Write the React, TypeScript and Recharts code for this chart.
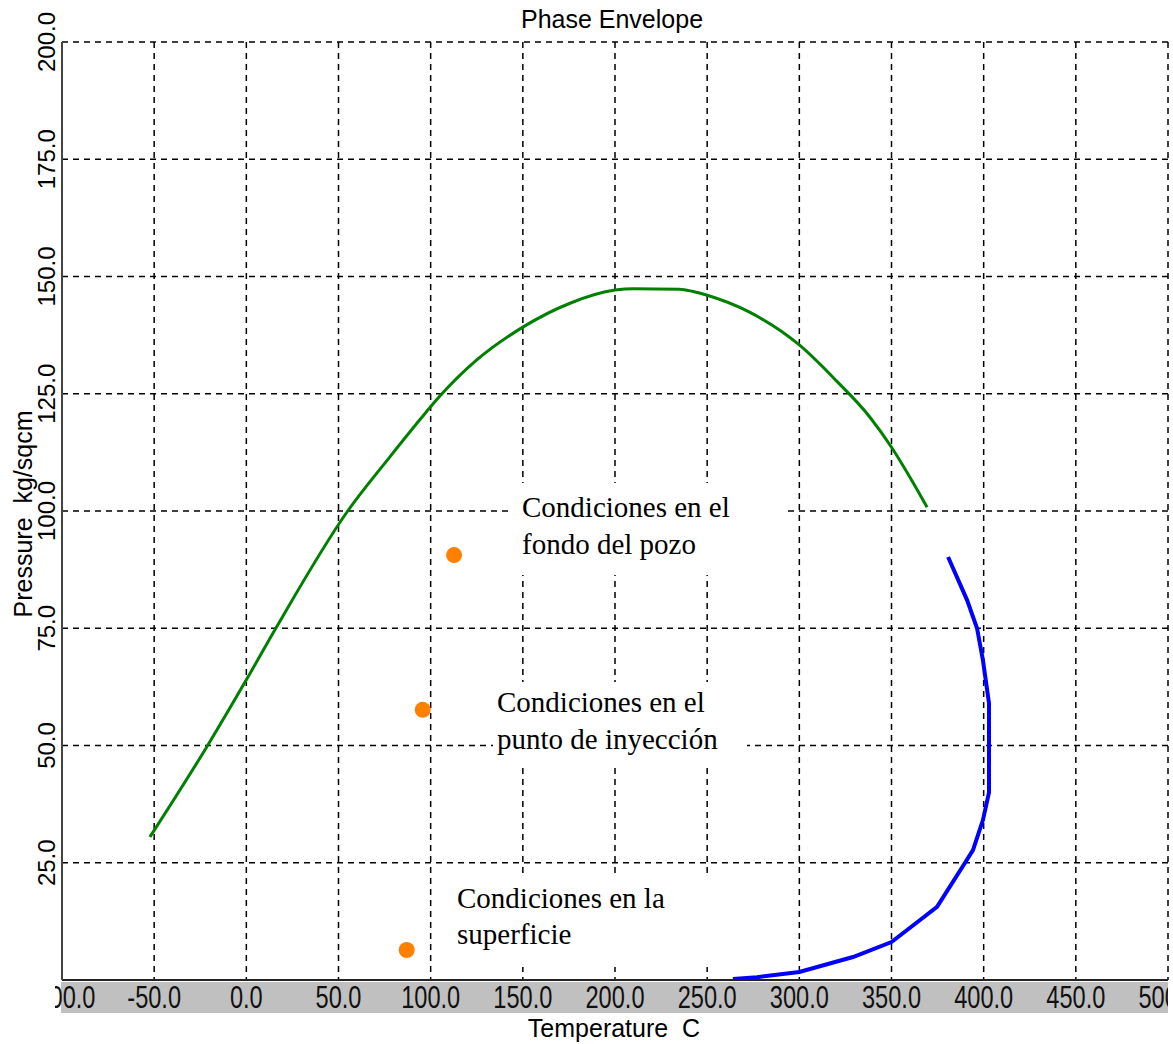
import { ComposedChart, Line, Scatter, XAxis, YAxis, CartesianGrid } from 'recharts';

// bubble point curve (green)
const bubbleTemp = [-52.3, -21, 0, 16, 55, 78, 94, 105, 125, 150, 175.6, 200, 210, 235, 242.3, 250, 273, 300, 320, 338.3, 350, 360, 369.3];
const bubblePress = [30.5, 50, 64, 75, 100, 111.6, 119.4, 124.5, 132.2, 139.2, 144.3, 147.1, 147.4, 147.3, 146.8, 146, 142.4, 135.4, 127.8, 120, 113.6, 107.2, 100.8];

// dew point curve (blue)
const dewTemp = [380.7, 391, 396.4, 399.6, 402.9, 402.9, 399.6, 394.2, 389.9, 374.7, 365.5, 350, 329.1, 300, 277, 264];
const dewPress = [90.2, 81, 75, 68.2, 59, 40, 34.1, 27.7, 25, 15.6, 12.8, 8.1, 4.9, 1.7, 0.6, 0.2];

// operating conditions
const condTemp = [112.7, 95.7, 87.0];
const condPress = [90.6, 57.6, 6.4];
const condLabels = [
    ['Condiciones en el', 'fondo del pozo'],
    ['Condiciones en el', 'punto de inyección'],
    ['Condiciones en la', 'superficie'],
];

const tempTicks = [-100, -50, 0, 50, 100, 150, 200, 250, 300, 350, 400, 450, 500];
const pressTicks = [0, 25, 50, 75, 100, 125, 150, 175, 200];

const bubbleData = bubbleTemp.map((t, i) => ({ t, p: bubblePress[i] }));
const dewData = dewTemp.map((t, i) => ({ t, p: dewPress[i] }));
const condData = condTemp.map((t, i) => ({ t, p: condPress[i] }));

const W = 1173;
const H = 1044;
const sans = '"Liberation Sans", Arial, sans-serif';
const serif = '"Liberation Serif", "Times New Roman", serif';

// white note boxes next to the condition points
const noteBoxes = [
    { x: 512, y: 483, w: 271, h: 92, tx: 522, ty: 517, lh: 37 },
    { x: 493, y: 682, w: 254, h: 85, tx: 497, ty: 712, lh: 37 },
    { x: 447, y: 875, w: 280, h: 92, tx: 457, ty: 908, lh: 36 },
];

function TempTick(props: any) {
    const { x, payload, index } = props;
    return (
        <g>
            {index === 0 && (
                <>
                    <defs>
                        <clipPath id="tempBand">
                            <rect x={55} y={975} width={1113} height={45} />
                        </clipPath>
                    </defs>
                    <rect x={61} y={982} width={1107} height={31} fill="#c0c0c0" />
                </>
            )}
            <g clipPath="url(#tempBand)">
                <text
                    transform={`translate(${x},1008) scale(1,1.3)`}
                    textAnchor="middle"
                    fontSize={23.6}
                    fontFamily={sans}
                    fill="#111"
                >
                    {payload.value.toFixed(1)}
                </text>
            </g>
        </g>
    );
}

function PressTick(props: any) {
    const { y, payload } = props;
    if (payload.value === 0) return null;
    return (
        <text
            transform={`translate(55,${y}) rotate(-90)`}
            textAnchor="middle"
            fontSize={24}
            fontFamily={sans}
            fill="#000"
        >
            {payload.value.toFixed(1)}
        </text>
    );
}

function CondDot(props: any) {
    return <circle cx={props.cx} cy={props.cy} r={8} fill="#ff8000" />;
}

export default function App() {
    return (
        <div style={{ position: 'absolute', left: 0, top: 0, width: W, height: H, background: '#fff' }}>
            <ComposedChart width={W} height={H} margin={{ top: 42, right: 5, left: 0, bottom: 0 }}>
                <CartesianGrid stroke="#000" strokeWidth={1.5} strokeDasharray="6 5" />
                <XAxis
                    type="number"
                    dataKey="t"
                    domain={[-100, 500]}
                    ticks={tempTicks}
                    interval={0}
                    height={64}
                    allowDataOverflow
                    axisLine={{ stroke: '#222', strokeWidth: 2 }}
                    tickLine={false}
                    tick={<TempTick />}
                />
                <YAxis
                    type="number"
                    dataKey="p"
                    domain={[0, 200]}
                    ticks={pressTicks}
                    interval={0}
                    width={62}
                    allowDataOverflow
                    axisLine={{ stroke: '#444', strokeWidth: 2 }}
                    tickLine={false}
                    tick={<PressTick />}
                />
                <Line data={bubbleData} dataKey="p" type="monotone" stroke="#008000" strokeWidth={3} dot={false} isAnimationActive={false} />
                <Line data={dewData} dataKey="p" type="linear" stroke="#0000ff" strokeWidth={4} dot={false} isAnimationActive={false} />
                <Scatter data={condData} dataKey="p" shape={<CondDot />} isAnimationActive={false} />
            </ComposedChart>
            <svg width={W} height={H} style={{ position: 'absolute', left: 0, top: 0, pointerEvents: 'none' }}>
                <text x={612} y={28} textAnchor="middle" fontSize={25} fontFamily={sans} fill="#000">
                    Phase Envelope
                </text>
                <text x={614} y={1037} textAnchor="middle" fontSize={25} fontFamily={sans} fill="#000" style={{ whiteSpace: 'pre' }}>
                    Temperature  C
                </text>
                <text transform="translate(32,514) rotate(-90)" textAnchor="middle" fontSize={25} fontFamily={sans} fill="#000" style={{ whiteSpace: 'pre' }}>
                    Pressure  kg/sqcm
                </text>
                {noteBoxes.map((b, i) => (
                    <g key={i}>
                        <rect x={b.x} y={b.y} width={b.w} height={b.h} fill="#fff" />
                        {condLabels[i].map((line, j) => (
                            <text key={j} x={b.tx} y={b.ty + j * b.lh} fontSize={29} fontFamily={serif} fill="#000">
                                {line}
                            </text>
                        ))}
                    </g>
                ))}
            </svg>
        </div>
    );
}
